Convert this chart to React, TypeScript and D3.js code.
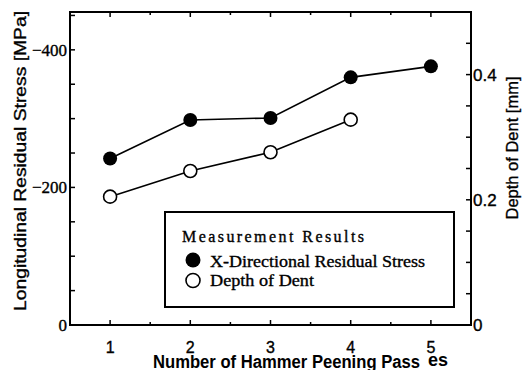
import React from "react";
import * as d3 from "d3";

const passes = [1, 2, 3, 4, 5];
const stress = [-242, -298, -301, -360, -376];
const depthPasses = [1, 2, 3, 4];
const depth = [0.205, 0.246, 0.276, 0.328];
const xTicks = [1, 2, 3, 4, 5];
const leftTicks = [0, -200, -400];
const rightTicks = [0, 0.2, 0.4];

const W = 522, H = 370;
const L = 70, R = 471, T = 12, B = 325;

export default function App() {
  const x = d3.scaleLinear().domain([0.5, 5.5]).range([L, R]);
  const yL = d3.scaleLinear().domain([0, -455]).range([B, T]);
  const yR = d3.scaleLinear().domain([0, 0.5]).range([B, T]);
  const line = d3.line<[number, number]>().x(d => d[0]).y(d => d[1]);
  const sPts: [number, number][] = passes.map((p, i) => [x(p), yL(stress[i])]);
  const dPts: [number, number][] = depthPasses.map((p, i) => [x(p), yR(depth[i])]);
  const xMinor = d3.range(1, 5.51, 0.5);
  const lMinor = d3.range(-50, -451, -50);
  const rMinor = d3.range(0.05, 0.5, 0.05);
  const serif = "'Liberation Serif', 'Times New Roman', serif";
  const sans = "'Liberation Sans', Arial, sans-serif";
  const ts = { stroke: "#000", strokeWidth: 0.35 };
  return (
    <svg width={W} height={H} style={{ position: "absolute", left: 0, top: 0, background: "#fff" }}>
      <rect x={L} y={T} width={R - L} height={B - T} fill="none" stroke="#000" strokeWidth={2} />
      {xMinor.map(v => {
        const major = Number.isInteger(v);
        const len = major ? 5 : 3;
        return (
          <g key={"xt" + v}>
            <line x1={x(v)} x2={x(v)} y1={B} y2={B - len} stroke="#000" strokeWidth={1.5} />
            <line x1={x(v)} x2={x(v)} y1={T} y2={T + len} stroke="#000" strokeWidth={1.5} />
          </g>
        );
      })}
      {lMinor.map(v => (
        <line key={"lt" + v} x1={L} x2={L + 5} y1={yL(v)} y2={yL(v)} stroke="#000" strokeWidth={1.5} />
      ))}
      {rMinor.map(v => (
        <line key={"rt" + v} x1={R} x2={R - 5} y1={yR(v)} y2={yR(v)} stroke="#000" strokeWidth={1.5} />
      ))}
      {xTicks.map(v => (
        <text key={"xl" + v} x={x(v)} y={353} textAnchor="middle" fontFamily={sans} fontSize={16} {...ts}>{v}</text>
      ))}
      {leftTicks.map(v => (
        <text key={"ll" + v} x={67} y={yL(v) + 6} textAnchor="end" fontFamily={serif} fontSize={17} {...ts}>{v === 0 ? "0" : "\u2212" + Math.abs(v)}</text>
      ))}
      {rightTicks.map(v => (
        <text key={"rl" + v} x={473} y={yR(v) + 6} textAnchor="start" fontFamily={sans} fontSize={17} {...ts}>{v === 0 ? "0" : v.toFixed(1)}</text>
      ))}
      <text transform={`translate(26,161) rotate(-90)`} textAnchor="middle" fontFamily={sans} fontSize={17} textLength={300} lengthAdjust="spacingAndGlyphs" {...ts}>Longitudinal Residual Stress [MPa]</text>
      <text transform={`translate(518,148) rotate(-90)`} textAnchor="middle" fontFamily={sans} fontSize={17} textLength={143} lengthAdjust="spacingAndGlyphs" {...ts}>Depth of Dent [mm]</text>
      <text x={153} y={368} fontFamily={sans} fontSize={18} fontWeight="bold" textLength={267} lengthAdjust="spacingAndGlyphs">Number of Hammer Peening Pass</text>
      <text x={428} y={366} fontFamily={sans} fontSize={18} fontWeight="bold">es</text>
      <path d={line(sPts) || ""} fill="none" stroke="#000" strokeWidth={1.6} />
      <path d={line(dPts) || ""} fill="none" stroke="#000" strokeWidth={1.6} />
      {sPts.map((p, i) => <circle key={"s" + i} cx={p[0]} cy={p[1]} r={7} fill="#000" />)}
      {dPts.map((p, i) => <circle key={"d" + i} cx={p[0]} cy={p[1]} r={6.5} fill="#fff" stroke="#000" strokeWidth={1.6} />)}
      <rect x={165} y={212} width={289} height={95} fill="#fff" stroke="#000" strokeWidth={2} />
      <text x={182} y={242} fontFamily={serif} fontSize={16} textLength={182} lengthAdjust="spacing" {...ts}>Measurement Results</text>
      <circle cx={193} cy={260} r={7.5} fill="#000" />
      <text x={210} y={267} fontFamily={serif} fontSize={16} textLength={215} lengthAdjust="spacingAndGlyphs" {...ts}>X-Directional Residual Stress</text>
      <circle cx={193} cy={280.5} r={7} fill="#fff" stroke="#000" strokeWidth={1.6} />
      <text x={210} y={286} fontFamily={serif} fontSize={16} textLength={104} lengthAdjust="spacingAndGlyphs" {...ts}>Depth of Dent</text>
    </svg>
  );
}
